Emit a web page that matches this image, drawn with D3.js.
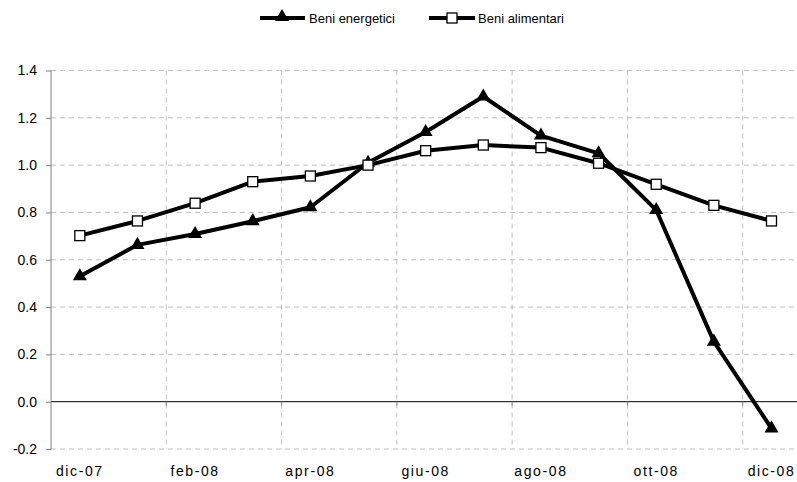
<!DOCTYPE html>
<html>
<head>
<meta charset="utf-8">
<script src="https://cdn.jsdelivr.net/npm/d3@7"></script>
<style>
  body { margin: 0; background: #fff; }
  text { font-family: "Liberation Sans", Arial, sans-serif; }
  .axis path { display: none; }
  .grid { stroke: #c0c0c0; stroke-dasharray: 5,4; stroke-width: 1; }
</style>
</head>
<body>
<script>
// Categories and series
var months = ["dic-07", "gen-08", "feb-08", "mar-08", "apr-08", "mag-08", "giu-08",
              "lug-08", "ago-08", "set-08", "ott-08", "nov-08", "dic-08"];
var energetici = [0.53, 0.663, 0.709, 0.763, 0.822, 1.01, 1.14, 1.29, 1.125, 1.05, 0.81, 0.254, -0.113];
var alimentari = [0.702, 0.764, 0.839, 0.930, 0.954, 1.0, 1.061, 1.085, 1.074, 1.008, 0.919, 0.830, 0.764];
var yTicks = [-0.2, 0, 0.2, 0.4, 0.6, 0.8, 1.0, 1.2, 1.4];

var width = 797, height = 482;
var left = 51, bandW = 57.64;

var svg = d3.select("body").append("svg")
    .attr("width", width)
    .attr("height", height);

var x = d3.scaleBand()
    .domain(months)
    .range([left, left + bandW * months.length])
    .padding(0);

var y = d3.scaleLinear()
    .domain([-0.2, 1.4])
    .range([449, 70.5]);

// horizontal dashed grid
svg.selectAll(".hgrid")
    .data(yTicks.filter(function(d) { return d !== 0; }))
    .enter().append("line")
    .attr("class", "grid")
    .attr("x1", left).attr("x2", width)
    .attr("y1", function(d) { return y(d); })
    .attr("y2", function(d) { return y(d); });

// vertical dashed grid every two months
var gridMonths = months.filter(function(d, i) { return i > 0 && i % 2 === 0; });
svg.selectAll(".vgrid")
    .data(gridMonths)
    .enter().append("line")
    .attr("class", "grid")
    .attr("x1", function(d) { return x(d); })
    .attr("x2", function(d) { return x(d); })
    .attr("y1", y(1.4)).attr("y2", y(-0.2));

// zero line with small ticks
svg.append("line")
    .attr("x1", left).attr("x2", width)
    .attr("y1", y(0)).attr("y2", y(0))
    .attr("stroke", "#000").attr("stroke-width", 1);

svg.selectAll(".xtick")
    .data(gridMonths)
    .enter().append("line")
    .attr("x1", function(d) { return x(d); })
    .attr("x2", function(d) { return x(d); })
    .attr("y1", y(0)).attr("y2", y(0) + 4)
    .attr("stroke", "#808080");

// y axis
var yAxis = d3.axisLeft(y)
    .tickValues(yTicks)
    .tickSize(5)
    .tickPadding(9)
    .tickFormat(function(d) { return d.toFixed(1); });

var gy = svg.append("g")
    .attr("class", "axis")
    .attr("transform", "translate(" + left + ",0)")
    .call(yAxis);
gy.selectAll("line").attr("stroke", "#808080");
gy.selectAll("text").attr("font-size", 14).attr("fill", "#000");

svg.append("line")
    .attr("x1", left).attr("x2", left)
    .attr("y1", y(1.4)).attr("y2", y(-0.2))
    .attr("stroke", "#808080");

// x axis labels
var xAxis = d3.axisBottom(x)
    .tickValues(months.filter(function(d, i) { return i % 2 === 0; }))
    .tickSize(0)
    .tickPadding(17);

var gx = svg.append("g")
    .attr("class", "axis")
    .attr("transform", "translate(0," + y(-0.2) + ")")
    .call(xAxis);
gx.selectAll("text").attr("font-size", 14).attr("letter-spacing", "1.6px").attr("fill", "#000");

// lines
var line = d3.line()
    .x(function(d, i) { return x(months[i]) + x.bandwidth() / 2; })
    .y(function(d) { return y(d); });

svg.append("path")
    .datum(alimentari)
    .attr("d", line)
    .attr("fill", "none").attr("stroke", "#000").attr("stroke-width", 4)
    .attr("stroke-linejoin", "round");

svg.append("path")
    .datum(energetici)
    .attr("d", line)
    .attr("fill", "none").attr("stroke", "#000").attr("stroke-width", 4)
    .attr("stroke-linejoin", "round");

var tri = d3.symbol().type(d3.symbolTriangle).size(85);

svg.selectAll(".tri")
    .data(energetici)
    .enter().append("path")
    .attr("d", tri)
    .attr("transform", function(d, i) {
        return "translate(" + (x(months[i]) + x.bandwidth() / 2) + "," + y(d) + ")";
    })
    .attr("fill", "#000");

svg.selectAll(".sq")
    .data(alimentari)
    .enter().append("rect")
    .attr("x", function(d, i) { return x(months[i]) + x.bandwidth() / 2 - 5; })
    .attr("y", function(d) { return y(d) - 5; })
    .attr("width", 10).attr("height", 10)
    .attr("fill", "#fff").attr("stroke", "#000").attr("stroke-width", 1.3);

// legend
var leg = svg.append("g");
leg.append("line").attr("x1", 260).attr("x2", 305).attr("y1", 18).attr("y2", 18)
    .attr("stroke", "#000").attr("stroke-width", 4);
leg.append("path").attr("d", tri).attr("transform", "translate(282,17)").attr("fill", "#000");
leg.append("text").attr("x", 309).attr("y", 23).attr("font-size", 13).text("Beni energetici");

leg.append("line").attr("x1", 429).attr("x2", 475).attr("y1", 18).attr("y2", 18)
    .attr("stroke", "#000").attr("stroke-width", 4);
leg.append("rect").attr("x", 447).attr("y", 13).attr("width", 10).attr("height", 10)
    .attr("fill", "#fff").attr("stroke", "#000").attr("stroke-width", 1.3);
leg.append("text").attr("x", 478).attr("y", 23).attr("font-size", 13).text("Beni alimentari");
</script>
</body>
</html>
